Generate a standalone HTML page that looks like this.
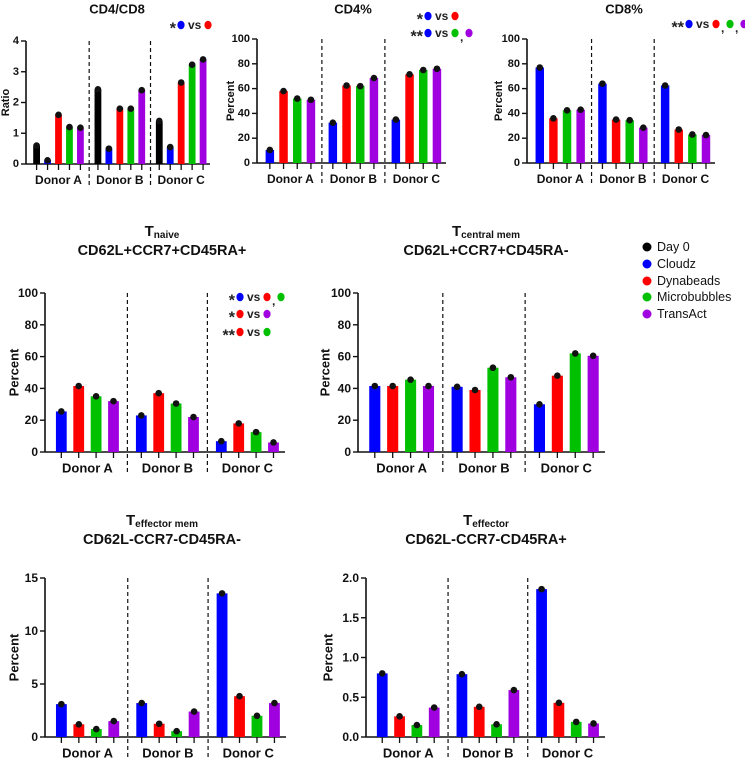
<!DOCTYPE html>
<html><head><meta charset="utf-8">
<style>
html,body{margin:0;padding:0;background:#fff;}
svg{display:block;font-family:"Liberation Sans Narrow","Liberation Sans",sans-serif;font-weight:bold;}
</style></head>
<body>
<svg id="fig" width="745" height="760" viewBox="0 0 745 760" xmlns="http://www.w3.org/2000/svg"></svg>
<script>
const donors = ["Donor A","Donor B","Donor C"];
const seriesNames = ["Day 0","Cloudz","Dynabeads","Microbubbles","TransAct"];
const seriesColors = ["#000000","#0000ff","#ff0000","#00c000","#a000e0"];
// values per chart [donor][series]
const ratioValues = [[0.6,0.12,1.6,1.2,1.18],[2.43,0.5,1.8,1.8,2.4],[1.4,0.55,2.65,3.23,3.4]];
const cd4Values = [[10.5,58,52,51],[32.5,62.5,62,68.5],[35,71.5,75,76]];
const cd8Values = [[77,36,42.5,43],[64,35,34.5,28.5],[62.5,27,23,22.5]];
const naiveValues = [[25.5,41.5,35,32],[23,37,30.5,22],[6.8,18,12.5,6]];
const centralValues = [[41.5,41.5,45.5,41.5],[41,39,53,47],[30,48,62,60.5]];
const effMemValues = [[3.1,1.2,0.75,1.5],[3.2,1.25,0.55,2.4],[13.55,3.85,2,3.2]];
const effValues = [[0.8,0.26,0.15,0.37],[0.79,0.38,0.16,0.59],[1.86,0.43,0.19,0.17]];
const ratioTicks = [0,1,2,3,4];
const pctTicks = [0,20,40,60,80,100];
const effMemTicks = [0,5,10,15];
const effTicks = ["0.0","0.5","1.0","1.5","2.0"];

const NS="http://www.w3.org/2000/svg";
const svg=document.getElementById('fig');
function mk(tag,attrs,parent){const e=document.createElementNS(NS,tag);for(const k in attrs)e.setAttribute(k,attrs[k]);(parent||svg).appendChild(e);return e;}
function txt(x,y,s,size,anchor,parent){const t=mk('text',{x:x,y:y,'font-size':size,'text-anchor':anchor||'middle','dominant-baseline':'central',fill:'#111'},parent);t.textContent=s;return t;}

function chart(cfg){
  const g=mk('g',{});
  
  
  const {x0,x1,yb,yt,ymax,ticks,values,colorOffset}=cfg;
  const ys=v=>yb-(v/ymax)*(yb-yt);
  const gw=(x1-x0)/3;
  const n=values[0].length;
  const step=gw/(n+0.6);
  const bw=step*0.62;
  const xs=(gi,si)=>x0+gw*(gi+0.5)+gw*0.03+(si-(n-1)/2)*step;
  // y axis
  const ya=mk('line',{x1:x0,y1:yt,x2:x0,y2:yb,stroke:'#111','stroke-width':1.6},g);
  
  
  ticks.forEach(t=>{const v=parseFloat(t);const y=ys(v);
    mk('line',{x1:x0-5,y1:y,x2:x0,y2:y,stroke:'#111','stroke-width':1.4},g);
    const tl=txt(x0-7,y,String(t),cfg.tickSize||12,'end',g);
    
    
  });
  // x axis
  const xa=mk('line',{x1:x0,y1:yb,x2:x1,y2:yb,stroke:'#111','stroke-width':1.6},g);
  
  
  // dividers
  for(let gi=0;gi<2;gi++){
    const dx=(xs(gi,n-1)+xs(gi+1,0))/2;
    const d=mk('line',{x1:dx,y1:yt,x2:dx,y2:yb+22,stroke:'#111','stroke-width':1.2,'stroke-dasharray':'4,3'},g);
    
    
  }
  values.forEach((grp,gi)=>{
    grp.forEach((v,si)=>{
      const cx=xs(gi,si);
      const r=mk('rect',{x:cx-bw/2,y:ys(v),width:bw,height:yb-ys(v),fill:seriesColors[si+colorOffset]},g);
      
      
      mk('line',{x1:cx,y1:yb,x2:cx,y2:yb+6,stroke:'#111','stroke-width':1.3},g);
      const p=mk('circle',{cx:cx,cy:ys(v),r:3.3,fill:'#111'},g);
      
      
    });
    const gc=(xs(gi,0)+xs(gi,n-1))/2;
    const l=txt(gc,yb+16,donors[gi],cfg.labelSize||13,'middle',g);
    
    
  });
  const yl=txt(0,0,cfg.ylabel,cfg.ylabelSize||12,'middle',g);
  yl.setAttribute('transform','translate('+cfg.ylx+','+((yb+yt)/2)+') rotate(-90)');
  
  
  return g;
}

function title(x,y,main,sub,line2,name){
  const t=mk('text',{x:x,y:y,'text-anchor':'middle','dominant-baseline':'central','font-size':15,fill:'#111'});
  
  
  const a=mk('tspan',{},t);a.textContent=main;
  if(sub){const b=mk('tspan',{'font-size':10,dy:4},t);b.textContent=sub;}
  if(line2){const l=txt(x,y+20,line2,14.5,'middle');}
}
function dot(x,y,c){mk('ellipse',{cx:x,cy:y,rx:3.6,ry:4.3,fill:c});}
function annot(x,y,stars,left,rights){
  const g=mk('g',{});
  
  
  const s=mk('text',{x:x,y:y+4,'font-size':16,'text-anchor':'end','dominant-baseline':'central',fill:'#222'},g);s.textContent=stars;
  let cx=x+5;dot(cx,y,left);cx+=7;
  const v=mk('text',{x:cx,y:y,'font-size':12,'dominant-baseline':'central',fill:'#222'},g);v.textContent='vs';
  cx+=20;
  rights.forEach((c,i)=>{dot(cx,y,c);if(i<rights.length-1){const cm=mk('text',{x:cx+5,y:y+4,'font-size':12,'dominant-baseline':'central',fill:'#222'},g);cm.textContent=',';}cx+=14;});
}
const C=seriesColors;

// Top row
const t1=txt(117,9,'CD4/CD8',13);
const t2=txt(353,9,'CD4%',13);
const t3=txt(624,9,'CD8%',13);
chart({name:'cd4-cd8-ratio-chart',x0:26,x1:210,yb:164,yt:41,ymax:4,ticks:ratioTicks,values:ratioValues,colorOffset:0,ylabel:'Ratio',ylx:6,labelSize:12,tickSize:11,ylabelSize:11});
chart({name:'cd4-percent-chart',x0:257,x1:446,yb:163,yt:39,ymax:100,ticks:pctTicks,values:cd4Values,colorOffset:1,ylabel:'Percent',ylx:231,labelSize:12,tickSize:11,ylabelSize:11});
chart({name:'cd8-percent-chart',x0:527,x1:715,yb:163,yt:39,ymax:100,ticks:pctTicks,values:cd8Values,colorOffset:1,ylabel:'Percent',ylx:499,labelSize:12,tickSize:11,ylabelSize:11});
annot(176,25,'*',C[1],[C[2]]);
annot(423,16,'*',C[1],[C[2]]);
annot(423,33,'**',C[1],[C[3],C[4]]);
annot(684,24,'**',C[1],[C[2],C[3],C[4]]);

// Middle row
title(162,231,'T','naive','CD62L+CCR7+CD45RA+','chart-title-naive');
title(486,231,'T','central mem','CD62L+CCR7+CD45RA-','chart-title-central-mem');
chart({name:'naive-chart',x0:45,x1:285,yb:452,yt:293,ymax:100,ticks:pctTicks,values:naiveValues,colorOffset:1,ylabel:'Percent',ylx:14,ylabelSize:13});
chart({name:'central-mem-chart',x0:358,x1:605,yb:452,yt:293,ymax:100,ticks:pctTicks,values:centralValues,colorOffset:1,ylabel:'Percent',ylx:325,ylabelSize:13});
annot(235,297,'*',C[1],[C[2],C[3]]);
annot(235,314,'*',C[2],[C[4]]);
annot(235,332,'**',C[2],[C[3]]);

// Legend
const legY=[247,264,281,297,314];
const lg=mk('g',{});


seriesNames.forEach((s,i)=>{
  const e=mk('g',{},lg);
  
  
  mk('circle',{cx:647,cy:legY[i],r:4.5,fill:seriesColors[i]},e);
  const t=mk('text',{x:657,y:legY[i],'font-size':12.5,'font-weight':'normal','dominant-baseline':'central',fill:'#111'},e);t.textContent=s;
});

// Bottom row
title(162,520,'T','effector mem','CD62L-CCR7-CD45RA-','chart-title-effector-mem');
title(486,520,'T','effector','CD62L-CCR7-CD45RA+','chart-title-effector');
chart({name:'effector-mem-chart',x0:45,x1:286,yb:737,yt:578,ymax:15,ticks:effMemTicks,values:effMemValues,colorOffset:1,ylabel:'Percent',ylx:14,ylabelSize:13});
chart({name:'effector-chart',x0:366,x1:605,yb:737,yt:578,ymax:2,ticks:effTicks,values:effValues,colorOffset:1,ylabel:'Percent',ylx:328,ylabelSize:13});
</script>
</body></html>
